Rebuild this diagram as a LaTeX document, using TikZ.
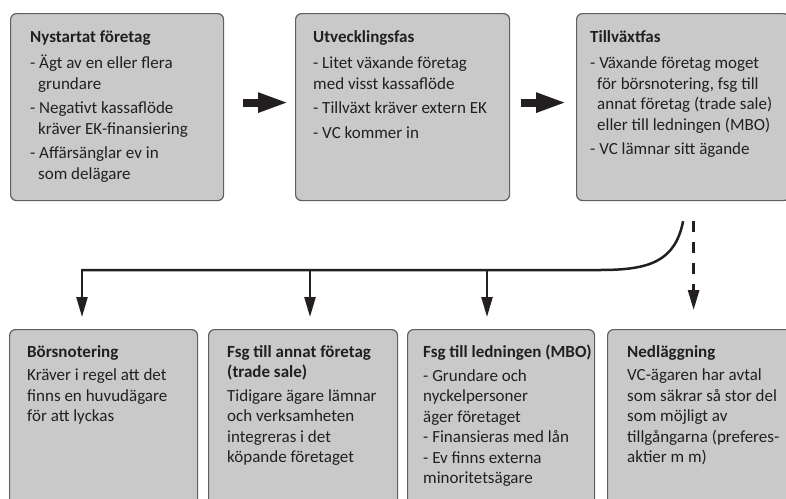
\documentclass[tikz,border=0pt]{standalone}
\usepackage{fontspec}
\setmainfont{Carlito}
\usetikzlibrary{arrows.meta, positioning}

\definecolor{boxgray}{RGB}{201,201,202}
\definecolor{boxline}{RGB}{95,95,95}
\definecolor{inkblack}{RGB}{35,31,32}

\begin{document}
\begin{tikzpicture}[
			x=1pt, y=-1pt,
			box/.style={
				draw=boxline,
				fill=boxgray,
				line width=1.2pt,
				rounded corners=6pt,
				anchor=north west,
				inner sep=0pt
			},
			phase/.style={box, minimum width=213pt, minimum height=187pt},
			outcome/.style={box, minimum width=188pt, minimum height=200pt},
			boxtext/.style={
				anchor=north west,
				align=left,
				inner sep=0pt,
				text=inkblack,
				font=\fontsize{17}{20.5}\selectfont
			},
			bigarrow/.style={draw=inkblack, line width=8pt, -{Triangle[length=31pt, width=18pt]}},
			tree/.style={draw=inkblack, line width=2.5pt},
			arrow/.style={draw=inkblack, line width=2.4pt, -{Triangle[length=20pt, width=11pt]}},
			dasharrow/.style={arrow, line width=2.8pt, dash pattern=on 11pt off 10pt}
			]
			
			\useasboundingbox (0,0) rectangle (786,498);
			\clip (0,0) rectangle (786,498);
			
			% faser
			\node[phase] (nystart) at (10,13) {};
			\node[phase, minimum width=214pt] (utveckling) at (295,13) {};
			\node[phase] (tillvaxt) at (576,13) {};
			
			\node[boxtext] (nystart-txt) at ([shift={(20,17)}]nystart.north west)
			{\textbf{Nystartat företag}\\[6pt]
				- Ägt av en eller flera\\
				\hspace*{8pt}grundare\\[4pt]
				- Negativt kassaflöde\\
				\hspace*{8pt}kräver EK-finansiering\\[4pt]
				- Affärsänglar ev in\\
				\hspace*{8pt}som delägare};
			\node[boxtext] (utveckling-txt) at ([shift={(18,17)}]utveckling.north west)
			{\textbf{Utvecklingsfas}\\[6pt]
				- Litet växande företag\\
				med visst kassaflöde\\[4pt]
				- Tillväxt kräver extern EK\\[4pt]
				- VC kommer in};
			\node[boxtext] (tillvaxt-txt) at ([shift={(14,17)}]tillvaxt.north west)
			{\textbf{Tillväxtfas}\\[6pt]
				- Växande företag moget\\
				\hspace*{7pt}för börsnotering, fsg till\\
				\hspace*{7pt}annat företag (trade sale)\\
				\hspace*{7pt}eller till ledningen (MBO)\\[4pt]
				- VC lämnar sitt ägande};
			
			% utfall
			\node[outcome] (borsnot) at (9,329) {};
			\node[outcome, minimum width=189pt] (tradesale) at (208,329) {};
			\node[outcome, minimum width=187pt] (mbo) at (407,329) {};
			\node[outcome] (nedlagg) at (607,329) {};
			
			\node[boxtext] (borsnot-txt) at ([shift={(18,16)}]borsnot.north west)
			{\textbf{Börsnotering}\\[3pt]
				Kräver i regel att det\\
				finns en huvudägare\\
				för att lyckas};
			\node[boxtext] (tradesale-txt) at ([shift={(19,16)}]tradesale.north west)
			{\textbf{Fsg till annat företag}\\
				\textbf{(trade sale)}\\[3pt]
				Tidigare ägare lämnar\\
				och verksamheten\\
				integreras i det\\
				köpande företaget};
			\node[boxtext] (mbo-txt) at ([shift={(16,16)}]mbo.north west)
			{\textbf{Fsg till ledningen (MBO)}\\[3pt]
				- Grundare och\\
				nyckelpersoner\\
				äger företaget\\
				- Finansieras med lån\\
				- Ev finns externa\\
				minoritetsägare};
			\node[boxtext] (nedlagg-txt) at ([shift={(20,16)}]nedlagg.north west)
			{\textbf{Nedläggning}\\[3pt]
				VC-ägaren har avtal\\
				som säkrar så stor del\\
				som möjligt av\\
				tillgångarna (preferes-\\
				aktier m m)};
			
			% pilar mellan faserna
			\draw[bigarrow, shorten <=19pt, shorten >=6pt] ([yshift=4.5pt]nystart.east) -- ([yshift=4.5pt]utveckling.west);
			\draw[bigarrow, shorten <=11pt, shorten >=9pt] ([yshift=4.5pt]utveckling.east) -- ([yshift=4.5pt]tillvaxt.west);
			
			% förgrening
			\coordinate (bend) at (600,270);
			\coordinate (j1) at (82,270);
			\coordinate (j2) at (310,270);
			\coordinate (j3) at (487,270);
			\coordinate (dashtop) at ([xshift=10.5pt]tillvaxt.south);
			
			\draw[tree] ([yshift=-20pt]tillvaxt.south) .. controls +(-8,40) and +(50,0) .. (bend) -- (j1);
			\draw[arrow, shorten >=12pt] ([yshift=1.2pt]j1) -- (j1 |- borsnot.north);
			\draw[arrow, shorten >=12pt] (j2) -- (j2 |- tradesale.north);
			\draw[arrow, shorten >=12pt] (j3) -- (j3 |- mbo.north);
			\draw[dasharrow, shorten <=20pt, shorten >=19pt] (dashtop) -- (dashtop |- nedlagg.north);
			
		\end{tikzpicture}
\end{document}
